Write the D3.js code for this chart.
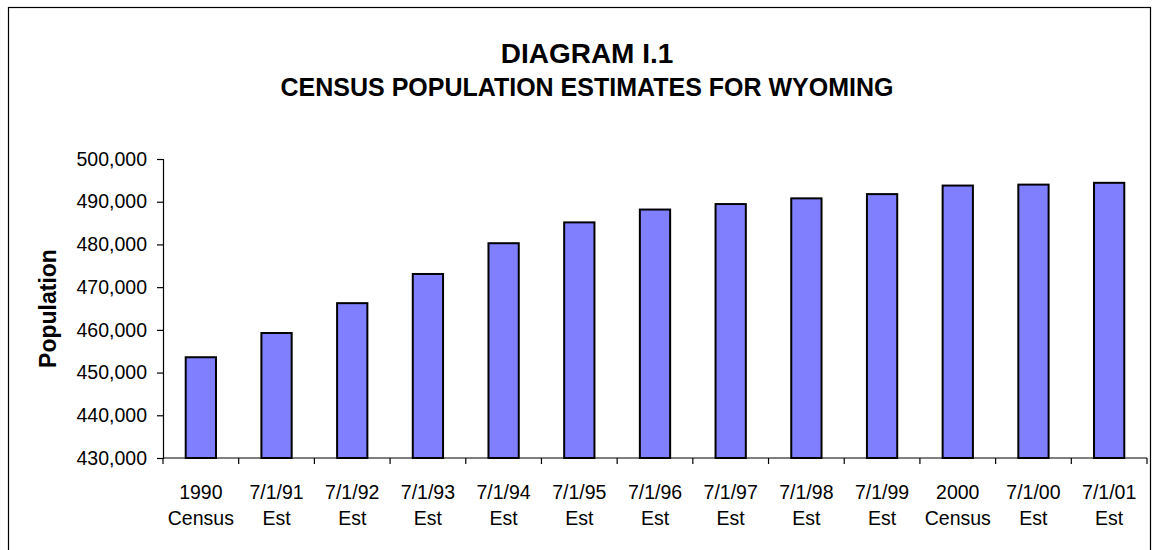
<!DOCTYPE html>
<html>
<head>
<meta charset="utf-8">
<script src="https://cdn.jsdelivr.net/npm/d3@7"></script>
<style>
  body { margin: 0; background: #fff; }
  svg { display: block; font-family: "Liberation Sans", Arial, sans-serif; }
</style>
</head>
<body>
<svg id="chart" width="1159" height="550"></svg>
<script>
const categories = [
  ["1990", "Census"], ["7/1/91", "Est"], ["7/1/92", "Est"], ["7/1/93", "Est"],
  ["7/1/94", "Est"], ["7/1/95", "Est"], ["7/1/96", "Est"], ["7/1/97", "Est"],
  ["7/1/98", "Est"], ["7/1/99", "Est"], ["2000", "Census"], ["7/1/00", "Est"],
  ["7/1/01", "Est"]
];
const population = [453588, 459260, 466251, 473081, 480283, 485160, 488167,
                    489452, 490787, 491780, 493782, 494001, 494423];
const yTicks = [430000, 440000, 450000, 460000, 470000, 480000, 490000, 500000];
const title = "DIAGRAM I.1";
const subtitle = "CENSUS POPULATION ESTIMATES FOR WYOMING";
const yLabel = "Population";

const svg = d3.select("#chart");
const plot = { left: 163, right: 1147, top: 159, bottom: 458 };

// outer frame
svg.append("rect")
  .attr("x", 8.5).attr("y", 7.5)
  .attr("width", 1142).attr("height", 600)
  .attr("fill", "none").attr("stroke", "#000").attr("stroke-width", 1.2);

// titles
svg.append("text").attr("x", 587).attr("y", 63)
  .attr("text-anchor", "middle").attr("font-weight", "bold")
  .attr("font-size", 28).text(title);
svg.append("text").attr("x", 587).attr("y", 95.5)
  .attr("text-anchor", "middle").attr("font-weight", "bold")
  .attr("font-size", 25).text(subtitle);

const x = d3.scaleBand()
  .domain(d3.range(categories.length))
  .range([plot.left, plot.right])
  .paddingInner(0.6).paddingOuter(0.3);

const y = d3.scaleLinear().domain([430000, 500000]).range([plot.bottom, plot.top]);

// bars
svg.append("g").selectAll("rect").data(population).join("rect")
  .attr("x", (d, i) => x(i))
  .attr("y", d => y(d))
  .attr("width", x.bandwidth())
  .attr("height", d => y(430000) - y(d))
  .attr("fill", "#8080FF")
  .attr("stroke", "#000")
  .attr("stroke-width", 2);

// y axis
const yAxis = d3.axisLeft(y).tickValues(yTicks)
  .tickFormat(d3.format(",")).tickSize(6).tickPadding(10);
const gy = svg.append("g").attr("transform", `translate(${plot.left},0)`).call(yAxis);
gy.select(".domain").attr("stroke", "#000").attr("stroke-width", 1.2);
gy.selectAll(".tick line").attr("stroke", "#000").attr("stroke-width", 1.2);
gy.selectAll(".tick text").attr("font-size", 19.5).attr("fill", "#000")
  .attr("font-family", "Liberation Sans, Arial, sans-serif");

// x axis: ticks at category boundaries
const step = x.step();
const boundaries = d3.range(categories.length + 1).map(i => plot.left + i * step);
const gx = svg.append("g");
gx.append("line")
  .attr("x1", plot.left).attr("x2", plot.right)
  .attr("y1", plot.bottom).attr("y2", plot.bottom)
  .attr("stroke", "#000").attr("stroke-width", 1.2);
gx.selectAll("line.tk").data(boundaries).join("line").attr("class", "tk")
  .attr("x1", d => d).attr("x2", d => d)
  .attr("y1", plot.bottom).attr("y2", plot.bottom + 6)
  .attr("stroke", "#000").attr("stroke-width", 1.2);

const labels = gx.selectAll("text.cat").data(categories).join("text").attr("class", "cat")
  .attr("text-anchor", "middle").attr("font-size", 19.5).attr("fill", "#000");
labels.append("tspan")
  .attr("x", (d, i) => x(i) + x.bandwidth() / 2).attr("y", 498.5)
  .text(d => d[0]);
labels.append("tspan")
  .attr("x", (d, i) => x(i) + x.bandwidth() / 2).attr("y", 525)
  .text(d => d[1]);

// y label
svg.append("text")
  .attr("transform", `translate(56,${(plot.top + plot.bottom) / 2}) rotate(-90)`)
  .attr("text-anchor", "middle").attr("font-weight", "bold")
  .attr("font-size", 23).text(yLabel);
</script>
</body>
</html>
